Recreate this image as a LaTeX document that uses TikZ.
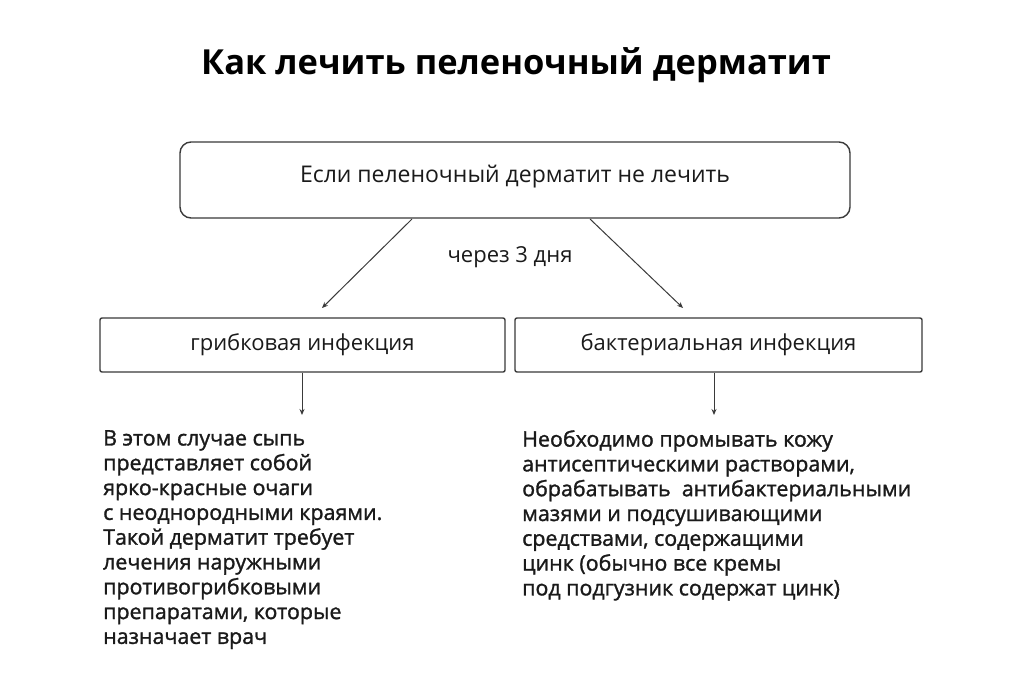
\documentclass[tikz,border=0pt]{standalone}
\usepackage{fontspec}
\setmainfont{Open Sans}
\usetikzlibrary{arrows.meta}
\definecolor{ln}{HTML}{3A3A3A}
\definecolor{tx}{HTML}{1A1A1A}
\begin{document}
\begin{tikzpicture}[x=1pt,y=-1pt,
  boxline/.style={draw=ln,line width=1.4pt},
  arr/.style={draw=ln,line width=1pt,-{Stealth[length=6pt,width=5pt]}},
  bodytext/.style={anchor=north west,align=left,text=tx,inner sep=0pt,font=\fontsize{21.4}{24.8}\selectfont\addfontfeatures{FakeBold=1.3}}]
\useasboundingbox (0,0) rectangle (1024,699);
\fill[white] (0,0) rectangle (1024,699);
\node[text=black,font=\fontsize{34.5}{40}\selectfont\bfseries] (title) at (516,65) {Как лечить пеленочный дерматит};
\node[boxline,rounded corners=11pt,minimum width=670pt,minimum height=76pt] (top) at (515,180) {};
\node[text=tx,font=\fontsize{23}{26}\selectfont] (toptext) at (515,177) {Если пеленочный дерматит не лечить};
\node[text=tx,font=\fontsize{22}{26}\selectfont] (days) at (510,257) {через 3 дня};
\node[boxline,rounded corners=2pt,minimum width=405pt,minimum height=54pt,text=tx,font=\fontsize{22}{26}\selectfont] (fung) at (302.5,345) {грибковая инфекция};
\node[boxline,rounded corners=2pt,minimum width=407pt,minimum height=54pt,text=tx,font=\fontsize{22}{26}\selectfont] (bact) at (718.5,345) {бактериальная инфекция};
\coordinate (ls) at (412,219);
\coordinate (le) at (322,308);
\coordinate (rs) at (590,219);
\coordinate (re) at (683,308);
\draw[arr] (ls) -- (le);
\draw[arr] (rs) -- (re);
\coordinate (fd) at (302,415);
\coordinate (bd) at (714,415);
\draw[arr] (fung.south -| fd) -- (fd);
\draw[arr] (bact.south -| bd) -- (bd);
\node[bodytext] (ftext) at (103,430) {В этом случае сыпь\\представляет собой\\ярко-красные очаги\\с неоднородными краями.\\Такой дерматит требует\\лечения наружными\\противогрибковыми\\препаратами, которые\\назначает врач};
\node[bodytext] (btext) at (522,430) {Необходимо промывать кожу\\антисептическими растворами,\\обрабатывать\ \ антибактериальными\\мазями и подсушивающими\\средствами, содержащими\\цинк (обычно все кремы\\под подгузник содержат цинк)};
\end{tikzpicture}
\end{document}
